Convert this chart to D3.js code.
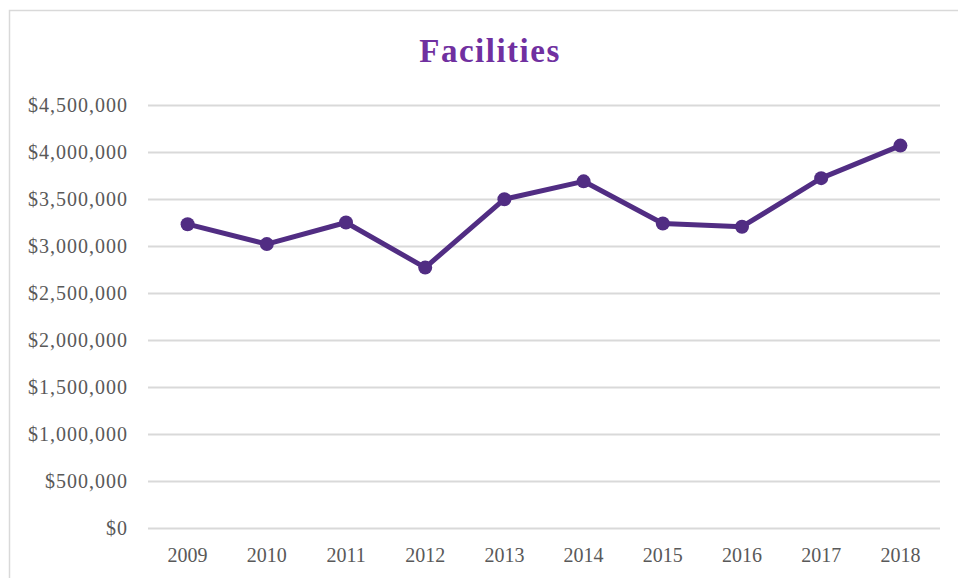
<!DOCTYPE html>
<html><head><meta charset="utf-8">
<script src="https://cdn.jsdelivr.net/npm/d3@7"></script>
<style>body{margin:0;background:#fff}svg{display:block}</style>
</head><body>
<svg id="c" width="958" height="578"></svg>
<script>
const years = ["2009","2010","2011","2012","2013","2014","2015","2016","2017","2018"];
const values = [3232000, 3020000, 3250000, 2770000, 3498000, 3688000, 3240000, 3205000, 3722000, 4068000];
const yTicks = [0,500000,1000000,1500000,2000000,2500000,3000000,3500000,4000000,4500000];
const title = "Facilities";

const svg = d3.select("#c");
svg.append("rect").attr("x",9.5).attr("y",10.5).attr("width",960).attr("height",580)
  .attr("fill","#fff").attr("stroke","#d9d9d9").attr("stroke-width",1.5);

const x = d3.scaleBand().domain(years).range([148,940]);
const y = d3.scaleLinear().domain([0,4500000]).range([528,105]);
const font = "'Liberation Serif','Times New Roman',serif";

svg.append("text").attr("x",490).attr("y",62).attr("text-anchor","middle")
  .attr("font-family",font).attr("font-weight","bold").attr("font-size",33)
  .attr("letter-spacing",1.5)
  .attr("fill","#7030a0").text(title);

const fmt = d => "$" + d3.format(",")(d);
const yAxis = svg.append("g").attr("transform","translate(148,0)")
  .call(d3.axisLeft(y).tickValues(yTicks).tickFormat(fmt).tickSize(-792).tickPadding(20));
yAxis.select(".domain").remove();
yAxis.selectAll("line").attr("stroke","#d9d9d9").attr("stroke-width",2);
yAxis.selectAll("text").attr("font-family",font).attr("font-size",20)
  .attr("letter-spacing",1).attr("fill","#595959");

const xAxis = svg.append("g").attr("transform","translate(0,528)")
  .call(d3.axisBottom(x).tickSize(0).tickPadding(20));
xAxis.select(".domain").remove();
xAxis.selectAll("text").attr("font-family",font).attr("font-size",20).attr("fill","#595959");

const pts = years.map((yr,i)=>({yr, v: values[i]}));
const line = d3.line().x(d=>x(d.yr)+x.bandwidth()/2).y(d=>y(d.v));
svg.append("path").datum(pts).attr("d",line).attr("fill","none")
  .attr("stroke","#512d83").attr("stroke-width",5).attr("stroke-linejoin","round");
svg.selectAll("circle.pt").data(pts).enter().append("circle").attr("class","pt")
  .attr("cx",d=>x(d.yr)+x.bandwidth()/2).attr("cy",d=>y(d.v)).attr("r",7)
  .attr("fill","#512d83");
</script>
</body></html>
